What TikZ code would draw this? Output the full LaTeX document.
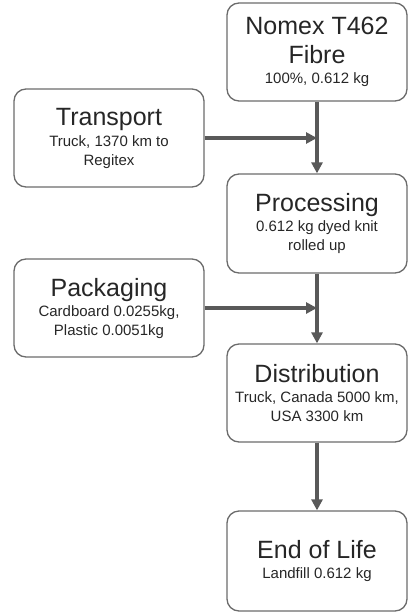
\documentclass[tikz,border=0pt]{standalone}
\usepackage{fontspec}
\setmainfont{Liberation Sans}
\usetikzlibrary{arrows.meta}
\definecolor{boxgrey}{HTML}{6B6B6B}
\definecolor{flowgrey}{HTML}{595959}
\newcommand{\stagetitle}{\fontsize{25}{29}\selectfont}

\begin{document}
\begin{tikzpicture}[x=1pt,y=1pt,
                      stage/.style={draw=boxgrey,line width=1.3pt,rounded corners=12pt,
                                    align=center,inner sep=0pt,minimum height=98pt,
                                    font=\fontsize{15}{19}\selectfont,text=black!85},
                      flow/.style={draw=flowgrey,line width=4pt,
                                   -{Triangle[length=11pt,width=11pt]}}]

   \useasboundingbox (0,0) rectangle (408,-613);

   \node[stage,minimum width=180pt] (nomex) at (317,-52)
        {{\stagetitle Nomex T462}\\[10pt]{\stagetitle Fibre}\\[1pt]100\%, 0.612 kg};
   \node[stage,minimum width=190pt] (transport) at (109,-138)
        {{\stagetitle Transport}\\[2pt]Truck, 1370 km to\\Regitex};
   \node[stage,minimum width=180pt,minimum height=99pt] (processing) at (317,-223.5)
        {{\stagetitle Processing}\\[1pt]0.612 kg dyed knit\\rolled up};
   \node[stage,minimum width=190pt] (packaging) at (109,-308)
        {{\stagetitle Packaging}\\[1pt]Cardboard 0.0255kg,\\Plastic 0.0051kg};
   \node[stage,minimum width=180pt] (distribution) at (317,-393)
        {{\stagetitle Distribution}\\[1pt]Truck, Canada 5000 km,\\USA 3300 km};
   \node[stage,minimum width=180pt,minimum height=100pt] (endoflife) at (317,-561)
        {{\stagetitle End of Life}\\[1pt]Landfill 0.612 kg};

   % inputs join the main line from the left
   \draw[flow] (transport.east) -- (transport.east -| nomex.south);
   \draw[flow] (packaging.east) -- (packaging.east -| processing.south);

   \draw[flow] (nomex) -- (processing);
   \draw[flow] (processing) -- (distribution);
   \draw[flow] (distribution) -- (endoflife);
\end{tikzpicture}
\end{document}
